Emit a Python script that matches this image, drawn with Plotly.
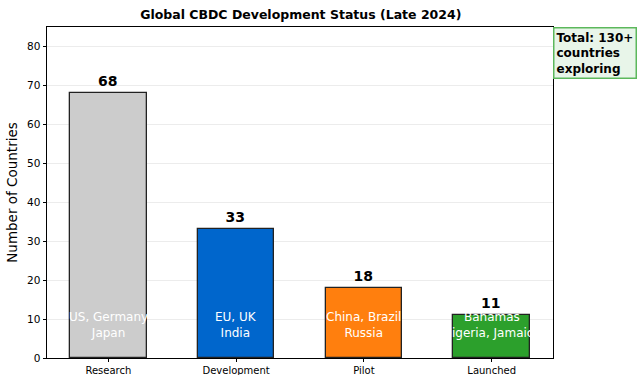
import plotly.graph_objects as go

categories = ["Research", "Development", "Pilot", "Launched"]
counts = [68, 33, 18, 11]
examples = ["US, Germany<br>Japan", "EU, UK<br>India", "China, Brazil<br>Russia", "Bahamas<br>Nigeria, Jamaica"]
colors = ["#cccccc", "#0066cc", "#ff7f0e", "#2ca02c"]
x_idx = list(range(len(categories)))

fig = go.Figure()
fig.add_trace(go.Bar(
    x=x_idx, y=counts, width=0.6,
    marker=dict(color=colors, line=dict(color="#222222", width=1.3)),
    text=[str(c) for c in counts], textposition="outside",
    textfont=dict(family="DejaVu Sans", size=14, color="black", weight="bold"),
    cliponaxis=False, showlegend=False, hoverinfo="skip",
))
for i, ex in enumerate(examples):
    fig.add_annotation(x=x_idx[i], y=8.5, text=ex, showarrow=False,
                       font=dict(family="DejaVu Sans", size=12, color="white"),
                       xanchor="center", yanchor="middle")

fig.add_annotation(xref="paper", yref="paper", x=1.0, y=1.0, xanchor="left", yanchor="top",
                   text="<b>Total: 130+<br>countries<br>exploring</b>", showarrow=False, align="left",
                   font=dict(family="DejaVu Sans", size=12, color="black"),
                   bgcolor="#e8f5e9", bordercolor="#5cb85c", borderwidth=1.5, borderpad=2)

fig.update_layout(
    width=640, height=375,
    margin=dict(l=47, r=87, t=27, b=17, autoexpand=False),
    paper_bgcolor="white", plot_bgcolor="white",
    title=dict(text="<b>Global CBDC Development Status (Late 2024)</b>", x=0.47, xanchor="center",
               y=0.962, yanchor="middle", font=dict(family="DejaVu Sans", size=12.5, color="black")),
    font=dict(family="DejaVu Sans", color="black"),
    bargap=0,
)
fig.update_xaxes(range=[-0.48, 3.48], tickvals=x_idx, ticktext=categories, automargin=False,
                 showline=True, linecolor="black", linewidth=1, mirror=True,
                 ticks="outside", ticklen=3, tickcolor="black",
                 tickfont=dict(size=10), showgrid=False, zeroline=False)
fig.update_yaxes(range=[0, 85], dtick=10, automargin=False,
                 showline=True, linecolor="black", linewidth=1, mirror=True,
                 ticks="outside", ticklen=3.5, tickcolor="black", tickfont=dict(size=10.5),
                 showgrid=True, gridcolor="#ececec", gridwidth=1, zeroline=False,
                 title=dict(text="Number of Countries", font=dict(size=13.5), standoff=6))

fig.write_html("out.html")
